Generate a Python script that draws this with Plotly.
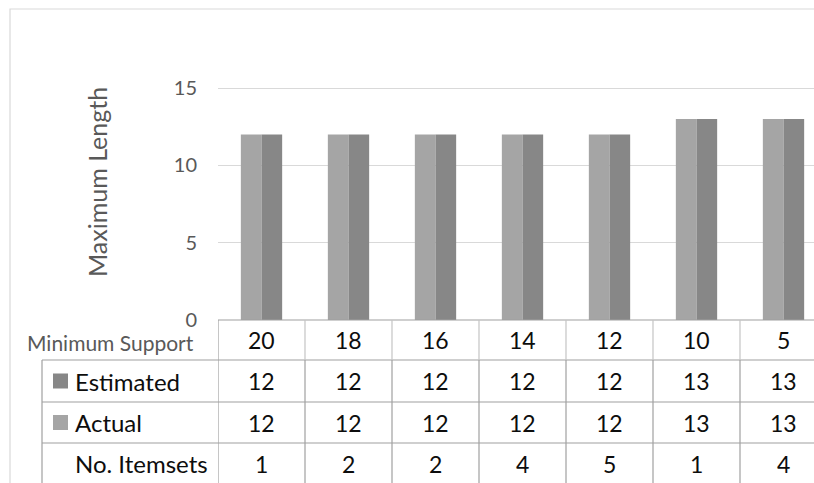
import plotly.graph_objects as go

# Data
min_support = ["20", "18", "16", "14", "12", "10", "5"]
estimated = [12, 12, 12, 12, 12, 13, 13]
actual = [12, 12, 12, 12, 12, 13, 13]
itemsets = [1, 2, 2, 4, 5, 1, 4]

C_ACTUAL = "#a5a5a5"
C_EST = "#878787"
GRID = "#d9d9d9"
TABLE_LINE = "#a0a0a0"
HEAD_LINE = "#c4c4c4"
FONT = "Lato, 'Open Sans', sans-serif"
GRAY_TXT = "#595959"
BLACK_TXT = "#0d0d0d"

FIG_W, FIG_H = 814, 483
ML, MR, MT, MB = 218, 0, 44, 163
PW = FIG_W - ML - MR
PH = FIG_H - MT - MB
CAT_PX = 87.0          # width of one category column
Y_PX_PER_UNIT = 232 / 15.0

def px_x(px):
    return (px - ML) / PW

def px_y(py):
    return (FIG_H - MB - py) / PH

idx = list(range(len(min_support)))

fig = go.Figure()
fig.add_trace(go.Bar(x=idx, y=actual, name="Actual", marker=dict(color=C_ACTUAL, line=dict(width=0))))
fig.add_trace(go.Bar(x=idx, y=estimated, name="Estimated", marker=dict(color=C_EST, line=dict(width=0))))

x0 = -0.5
x1 = x0 + PW / CAT_PX
y1 = PH / Y_PX_PER_UNIT

fig.update_layout(
    width=FIG_W, height=FIG_H,
    margin=dict(l=ML, r=MR, t=MT, b=MB, pad=0),
    paper_bgcolor="white", plot_bgcolor="white",
    barmode="group", bargap=0.525, bargroupgap=0,
    showlegend=False,
    font=dict(family=FONT, color=GRAY_TXT),
    xaxis=dict(range=[x0, x1], showticklabels=False, showgrid=False,
               zeroline=False, showline=False, ticks=""),
    yaxis=dict(range=[0, y1], tickvals=[0, 5, 10, 15], showgrid=True,
               gridcolor=GRID, gridwidth=1, zeroline=False, showline=False,
               ticks="", ticklabelstandoff=20,
               tickfont=dict(family=FONT, size=20, color=GRAY_TXT)),
)

shapes = []
annotations = []

# chart frame
shapes.append(dict(type="rect", xref="paper", yref="paper",
                   x0=px_x(10), x1=px_x(830), y0=px_y(9), y1=px_y(500),
                   line=dict(color=GRID, width=1.2), layer="below"))

# y title
annotations.append(dict(text="Maximum Length", xref="paper", yref="paper",
                        x=px_x(97), y=px_y(182), textangle=-90, showarrow=False,
                        xanchor="center", yanchor="middle",
                        font=dict(family=FONT, size=25, color=GRAY_TXT)))

# data table geometry (pixel rows)
row_edges = [320, 360, 402, 443, 484]
table_left = 42

# horizontal lines
shapes.append(dict(type="line", xref="paper", yref="paper", x0=px_x(218), x1=px_x(830),
                   y0=px_y(320), y1=px_y(320), line=dict(color=TABLE_LINE, width=1.2)))
for ry in row_edges[1:4]:
    shapes.append(dict(type="line", xref="paper", yref="paper", x0=px_x(table_left), x1=px_x(830),
                       y0=px_y(ry), y1=px_y(ry), line=dict(color=TABLE_LINE, width=1.2)))
# left edge of legend rows
shapes.append(dict(type="line", xref="paper", yref="paper", x0=px_x(table_left), x1=px_x(table_left),
                   y0=px_y(360), y1=px_y(490), line=dict(color=TABLE_LINE, width=1.2)))
# column separators
for i in range(len(min_support) + 1):
    xv = i - 0.5
    shapes.append(dict(type="line", xref="x", yref="paper", x0=xv, x1=xv,
                       y0=px_y(320), y1=px_y(360), line=dict(color=HEAD_LINE if i > 0 else TABLE_LINE, width=1.2)))
    shapes.append(dict(type="line", xref="x", yref="paper", x0=xv, x1=xv,
                       y0=px_y(360), y1=px_y(490), line=dict(color=TABLE_LINE, width=1.2)))

# row headers
centers = [(row_edges[k] + row_edges[k + 1]) / 2 for k in range(4)]
annotations.append(dict(text="Minimum Support", xref="paper", yref="paper",
                        x=px_x(196), y=px_y(centers[0] + 2), xanchor="right", yanchor="middle",
                        showarrow=False, font=dict(family=FONT, size=21, color=GRAY_TXT)))
row_labels = [("Estimated", C_EST), ("Actual", C_ACTUAL), ("No. Itemsets", None)]
for k, (lab, col) in enumerate(row_labels):
    cy = centers[k + 1]
    annotations.append(dict(text=lab, xref="paper", yref="paper",
                            x=px_x(73), y=px_y(cy), xanchor="left", yanchor="middle",
                            showarrow=False, font=dict(family=FONT, size=24, color=BLACK_TXT)))
    if col:
        shapes.append(dict(type="rect", xref="paper", yref="paper",
                           x0=px_x(53), x1=px_x(68), y0=px_y(cy - 7.5), y1=px_y(cy + 7.5),
                           fillcolor=col, line=dict(width=0)))

# cell values
rows = [min_support, estimated, actual, itemsets]
for k, vals in enumerate(rows):
    for i, v in enumerate(vals):
        annotations.append(dict(text=str(v), xref="x", yref="paper",
                                x=i, y=px_y(centers[k]), xanchor="center", yanchor="middle",
                                showarrow=False, font=dict(family=FONT, size=23, color=BLACK_TXT)))

fig.update_layout(shapes=shapes, annotations=annotations)
fig.write_html("out.html")
